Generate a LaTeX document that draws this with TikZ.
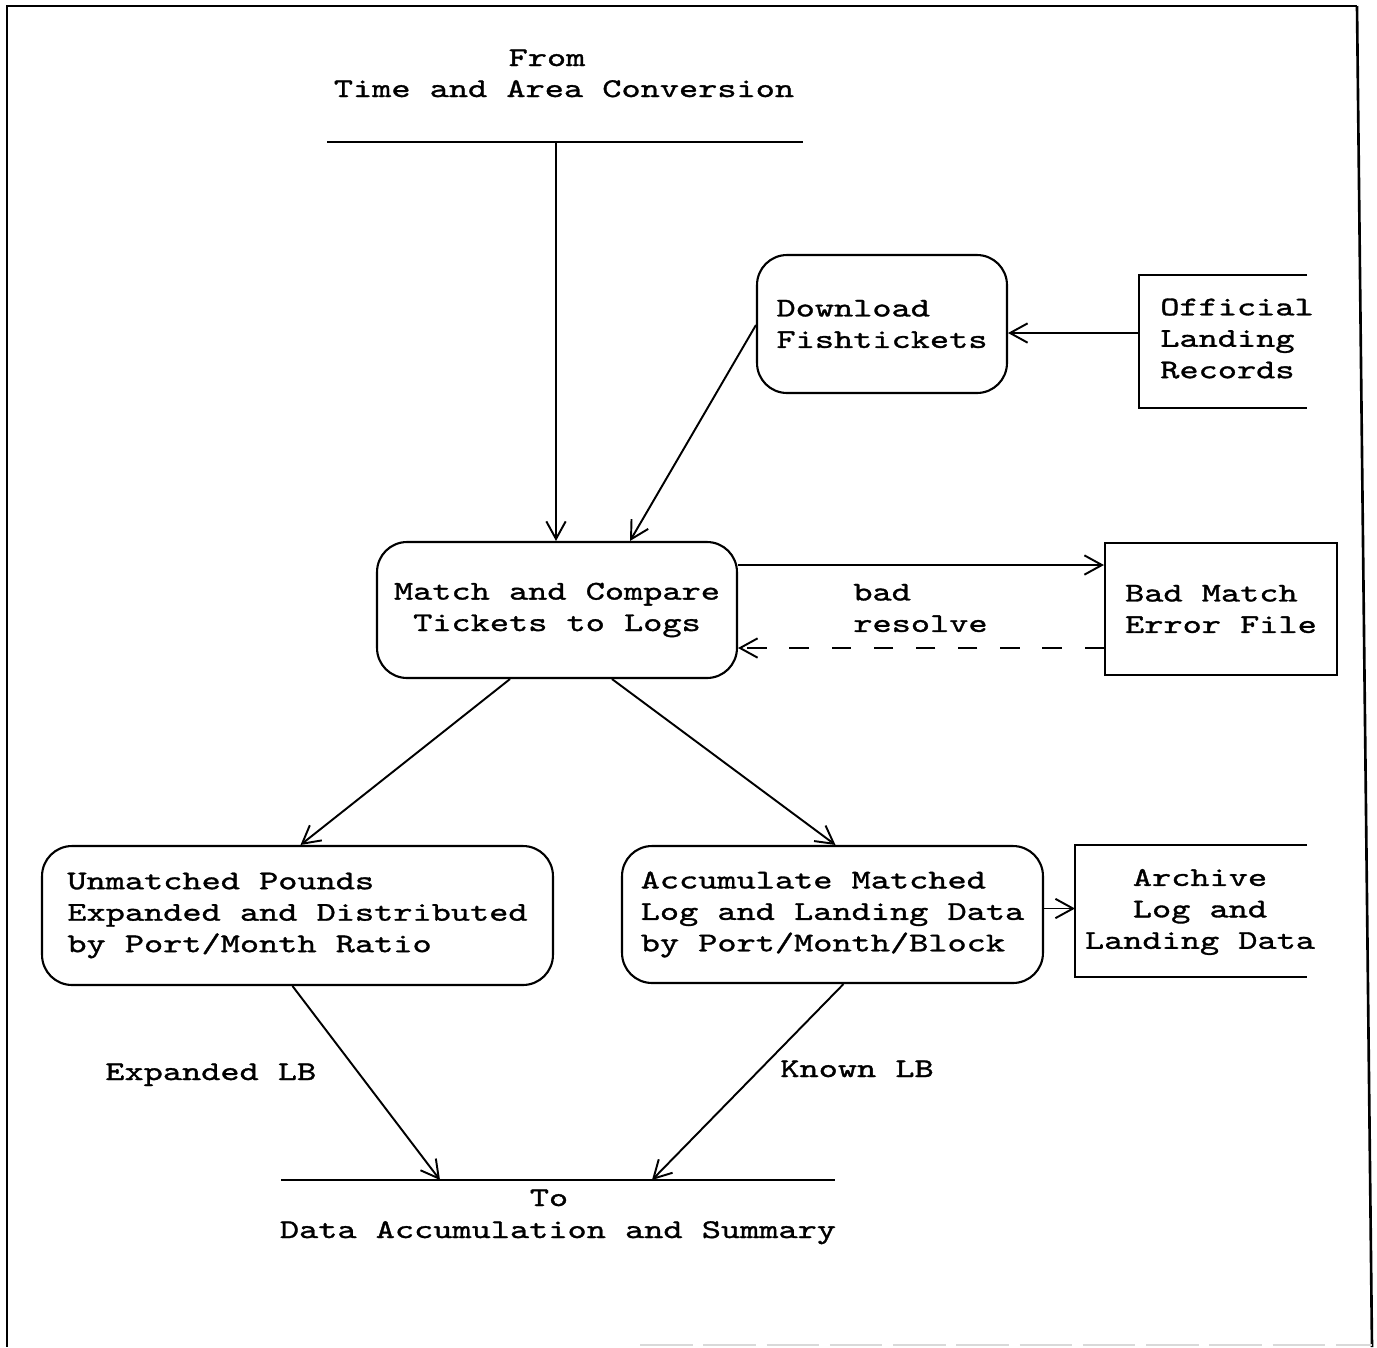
\documentclass[tikz,border=0pt]{standalone}
\usepackage{fontspec}
\newfontfamily\typew[FakeStretch=1.35,FakeBold=1.2]{lmmono10-regular.otf}
\usetikzlibrary{arrows.meta,calc}
\begin{document}
\begin{tikzpicture}[x=0.02cm,y=-0.02cm,
  every node/.style={font={\typew\fontsize{15.4}{17.9}\selectfont}, inner sep=0pt},
  proc/.style={draw, rounded corners=0.6cm, line width=1.2pt},
  store/.style={draw, line width=1.2pt},
  outline/.style={line width=1.2pt},
  flow/.style={line width=1.1pt, -{Straight Barb[length=10pt,width=11pt]}},
  back/.style={flow, dash pattern=on 11pt off 13pt}]
\useasboundingbox (0,0) rectangle (1377,1347);

% page frame
\draw[line width=1.5pt] (1357,6) -- (7,6) -- (7,1347);
\draw[line width=1.5pt] (1357,6) -- (1372,1347);
\draw[line width=0.8pt, gray!30, dash pattern=on 30pt off 6pt] (640,1345) -- (1372,1345);

% source of the flow
\node[anchor=base] (srcA) at (547,66) {From};
\node[anchor=base] (srcB) at (564,97) {Time and Area Conversion};
\coordinate (srcL) at (327,142);
\coordinate (srcR) at (803,142);
\coordinate (tap) at (556,142);
\draw[outline] (srcL) -- (srcR);

% processes
\node[proc, align=left, minimum width=5cm, minimum height=2.76cm] (dl) at (882,324)
  {Download\\Fishtickets};
\node[proc, align=center, minimum width=7.2cm, minimum height=2.72cm] (match) at (557,610)
  {Match and Compare\\Tickets to Logs};
\node[proc, align=left, minimum width=10.22cm, minimum height=2.78cm] (unm) at (297.5,915.5)
  {Unmatched Pounds\\Expanded and Distributed\\by Port/Month Ratio};
\node[proc, align=left, minimum width=8.42cm, minimum height=2.74cm] (acc) at (832.5,914.5)
  {Accumulate Matched\\Log and Landing Data\\by Port/Month/Block};

% data stores
\node[align=left] (off) at (1237,338.5) {Official\\Landing\\Records};
\draw[outline] (1307,275) -- (1139,275) -- (1139,408) -- (1307,408);
\coordinate (offW) at (1139,333);

\node[store, align=left, minimum width=4.64cm, minimum height=2.64cm] (bad) at (1221,609)
  {Bad Match\\Error File};

\node[align=center] (arch) at (1200,912) {Archive\\Log and\\Landing Data};
\draw[outline] (1307,845) -- (1075,845) -- (1075,977) -- (1307,977);
\coordinate (archW) at (1075,908);

% sink of the flow
\coordinate (sinkL) at (281,1180);
\coordinate (sinkR) at (835,1180);
\draw[outline] (sinkL) -- (sinkR);
\coordinate (inL) at (440,1180);
\coordinate (inR) at (652,1180);
\node[anchor=base] (dstA) at (549,1206) {To};
\node[anchor=base] (dstB) at (558,1238) {Data Accumulation and Summary};

% connectors
\draw[flow] (tap) -- (match.north -| tap);
\draw[flow] ($(dl.west)+(0,1)$) -- ($(match.north)+(73,0)$);
\draw[flow] (offW) -- (offW -| dl.east);
\draw[flow] ($(match.east)+(0,-45)$) coordinate (m1) -- (m1 -| bad.west);
\draw[back] ($(bad.west)+(0,39)$) coordinate (b1) -- (b1 -| match.east);
\node[anchor=west, align=left] (lblBad) at (853,608) {bad\\resolve};

\draw[flow] ($(match.south)+(-47,0)$) -- ($(unm.north)+(3,0)$);
\draw[flow] ($(match.south)+(55,0)$) -- ($(acc.north)+(3,0)$);
\draw[flow] ($(acc.east)+(0,-6)$) coordinate (a1) -- (a1 -| archW);

\draw[flow] ($(unm.south)+(-5,0)$) -- (inL);
\draw[flow] ($(acc.south)+(11,0)$) -- (inR);
\node[anchor=base west] (lblExp) at (105,1080) {Expanded LB};
\node[anchor=base west] (lblKnown) at (780,1077) {Known LB};
\end{tikzpicture}
\end{document}
